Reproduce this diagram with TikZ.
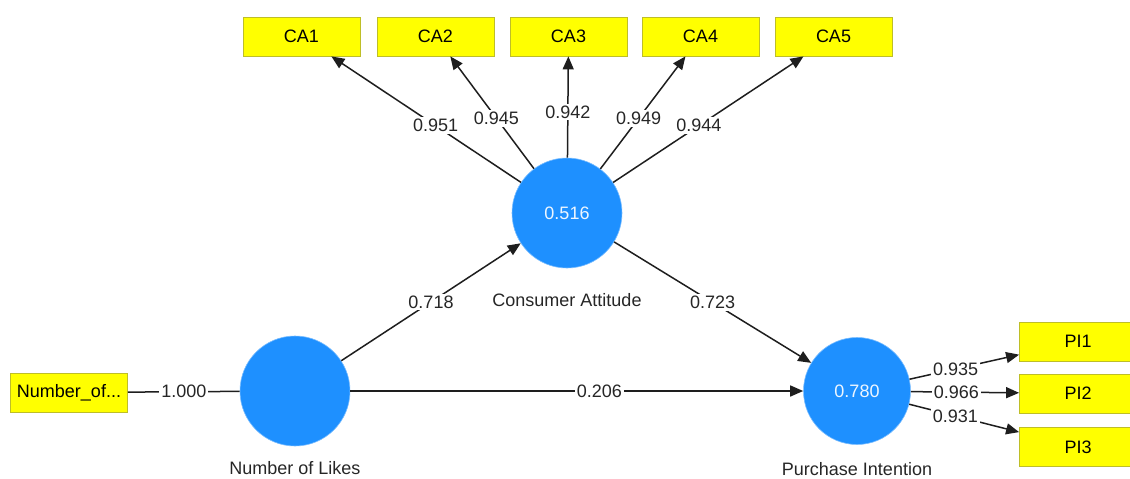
\documentclass[tikz,border=0pt]{standalone}
\usepackage{fontspec}
\setmainfont{Liberation Sans}
\usetikzlibrary{arrows.meta}
\definecolor{boxyellow}{RGB}{255,255,0}
\definecolor{boxedge}{RGB}{190,190,40}
\definecolor{lvblue}{RGB}{30,144,255}
\definecolor{linegray}{RGB}{30,30,30}
\begin{document}
\begin{tikzpicture}[x=1pt,y=-1pt,
  font=\fontsize{18}{21}\selectfont,
  indbox/.style={draw=boxedge,fill=boxyellow,line width=0.8pt,minimum width=117pt,minimum height=39pt,inner sep=0pt,text=black},
  latent/.style={circle,fill=lvblue,draw=lvblue!60!white,line width=0.6pt,minimum size=110pt,inner sep=0pt,text=white!92!lvblue},
  conn/.style={draw=linegray,line width=1.5pt},
  arr/.style={conn,-{Triangle[length=13pt,width=11pt]}},
  wlab/.style={fill=white,inner sep=2pt,text=black!85},
  lvcaption/.style={text=black!85}]
\useasboundingbox (0,0) rectangle (1130,479);
% latent variables
\node[latent] (CA) at (567,213) {0.516};
\node[latent] (NL) at (295,391) {};
\node[latent,minimum size=107pt] (PI) at (857,391) {0.780};
\node[lvcaption] (CAlab) at (567,300) {Consumer Attitude};
\node[lvcaption] (NLlab) at (295,468) {Number of Likes};
\node[lvcaption] (PIlab) at (857,469) {Purchase Intention};
% indicators
\node[indbox] (CA1) at (301.5,36.5) {CA1};
\node[indbox] (CA2) at (435.5,36.5) {CA2};
\node[indbox] (CA3) at (568.5,36.5) {CA3};
\node[indbox] (CA4) at (700.5,36.5) {CA4};
\node[indbox] (CA5) at (833.5,36.5) {CA5};
\node[indbox] (NO) at (69,392.5) {Number\_of...};
\node[indbox] (PI1) at (1078,341.5) {PI1};
\node[indbox] (PI2) at (1078,393.5) {PI2};
\node[indbox] (PI3) at (1078,447) {PI3};
% outer loadings
\draw[arr] (CA) -- node[wlab,pos=0.45] {0.951} (CA1);
\draw[arr] (CA) -- node[wlab,pos=0.45] {0.945} (CA2);
\draw[arr] (CA) -- node[wlab,pos=0.45] {0.942} (CA3);
\draw[arr] (CA) -- node[wlab,pos=0.45] {0.949} (CA4);
\draw[arr] (CA) -- node[wlab,pos=0.45] {0.944} (CA5);
\draw[conn] (NO) -- node[wlab] {1.000} (NL);
\draw[arr] (PI) -- node[wlab,pos=0.42] {0.935} (PI1);
\draw[arr] (PI) -- node[wlab,pos=0.42] {0.966} (PI2);
\draw[arr] (PI) -- node[wlab,pos=0.42] {0.931} (PI3);
% paths
\draw[arr] (NL) -- node[wlab] {0.718} (CA);
\draw[arr] (CA) -- node[wlab] {0.723} (PI);
\draw[arr] (NL) -- node[wlab,pos=0.55] {0.206} (PI);
\end{tikzpicture}
\end{document}
